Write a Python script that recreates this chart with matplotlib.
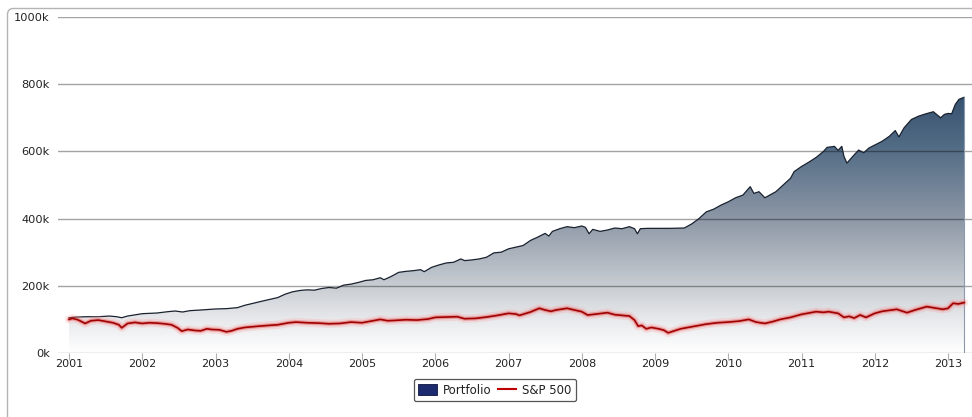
import numpy as np
import matplotlib
matplotlib.use("Agg")
import matplotlib.pyplot as plt
from matplotlib.patches import Patch, FancyBboxPatch, Polygon
from matplotlib.lines import Line2D
from matplotlib.colors import LinearSegmentedColormap
from matplotlib.transforms import IdentityTransform

# ---- data (values in thousands) ----
portfolio_t = [2001.00, 2001.10, 2001.25, 2001.40, 2001.55, 2001.65, 2001.72, 2001.80,
               2002.00, 2002.20, 2002.35, 2002.45, 2002.55, 2002.65, 2002.80, 2003.00,
               2003.15, 2003.30, 2003.40, 2003.55, 2003.65, 2003.75, 2003.85, 2003.95,
               2004.05, 2004.15, 2004.25, 2004.35, 2004.45, 2004.55, 2004.65, 2004.75,
               2004.85, 2004.95, 2005.05, 2005.15, 2005.25, 2005.30, 2005.40, 2005.50,
               2005.60, 2005.70, 2005.80, 2005.85, 2005.95, 2006.05, 2006.15, 2006.25,
               2006.35, 2006.40, 2006.50, 2006.60, 2006.70, 2006.80, 2006.90, 2007.00,
               2007.10, 2007.20, 2007.30, 2007.40, 2007.50, 2007.55, 2007.60, 2007.70,
               2007.80, 2007.90, 2008.00, 2008.05, 2008.10, 2008.15, 2008.25, 2008.35,
               2008.45, 2008.55, 2008.65, 2008.72, 2008.76, 2008.80, 2008.90, 2009.00,
               2009.20, 2009.40, 2009.50, 2009.60, 2009.70, 2009.80, 2009.90, 2010.00,
               2010.10, 2010.20, 2010.30, 2010.35, 2010.42, 2010.50, 2010.55, 2010.65,
               2010.75, 2010.85, 2010.90, 2011.00, 2011.10, 2011.20, 2011.30, 2011.35,
               2011.45, 2011.50, 2011.55, 2011.58, 2011.62, 2011.70, 2011.78, 2011.85,
               2011.92, 2012.00, 2012.10, 2012.20, 2012.28, 2012.33, 2012.40, 2012.50,
               2012.60, 2012.70, 2012.80, 2012.90, 2012.95, 2013.00, 2013.05, 2013.10,
               2013.15, 2013.22]
portfolio_v = [105, 107, 108, 108, 110, 108, 105, 110,
               117, 119, 123, 125, 122, 126, 128, 131,
               132, 135, 142, 150, 155, 160, 165, 175,
               182, 186, 188, 187, 192, 195, 193, 202,
               205, 210, 216, 218, 224, 218, 228, 240,
               243, 245, 248, 242, 255, 262, 268, 270,
               280, 275, 277, 280, 285, 298, 300, 310,
               315, 320, 335, 345, 356, 348, 362, 370,
               376, 373, 378, 374, 355, 368, 362, 366,
               372, 370, 376, 370, 355, 370, 371, 371,
               371, 372, 384, 400, 420, 428, 440, 450,
               462, 470, 495, 475, 480, 462, 468, 480,
               500, 520, 540, 555, 568, 582, 600, 612,
               615, 603, 615, 585, 565, 585, 604, 596,
               610, 619, 630, 645, 662, 643, 670, 695,
               705, 712, 718, 700, 710, 713, 712, 740,
               755, 761]

sp_t = [2001.00, 2001.05, 2001.12, 2001.22, 2001.30, 2001.40, 2001.50, 2001.60, 2001.68, 2001.72,
        2001.80, 2001.90, 2002.00, 2002.10, 2002.20, 2002.30, 2002.40, 2002.48, 2002.54, 2002.62,
        2002.72, 2002.80, 2002.88, 2002.95, 2003.05, 2003.15, 2003.22, 2003.30, 2003.40, 2003.50,
        2003.60, 2003.72, 2003.85, 2004.00, 2004.10, 2004.25, 2004.40, 2004.55, 2004.70, 2004.85,
        2005.00, 2005.10, 2005.25, 2005.35, 2005.45, 2005.60, 2005.75, 2005.90, 2006.00, 2006.15,
        2006.30, 2006.40, 2006.55, 2006.70, 2006.85, 2007.00, 2007.10, 2007.15, 2007.30, 2007.42,
        2007.50, 2007.58, 2007.65, 2007.80, 2007.88, 2008.00, 2008.08, 2008.20, 2008.35, 2008.45,
        2008.55, 2008.65, 2008.72, 2008.77, 2008.82, 2008.88, 2008.95, 2009.05, 2009.12, 2009.18,
        2009.25, 2009.35, 2009.45, 2009.55, 2009.70, 2009.85, 2010.00, 2010.15, 2010.28, 2010.38,
        2010.50, 2010.60, 2010.71, 2010.85, 2011.00, 2011.10, 2011.20, 2011.30, 2011.37, 2011.50,
        2011.58, 2011.65, 2011.72, 2011.80, 2011.88, 2012.00, 2012.10, 2012.20, 2012.30, 2012.44,
        2012.55, 2012.71, 2012.82, 2012.93, 2013.00, 2013.07, 2013.14, 2013.22]
sp_v = [100, 103, 99, 88, 96, 98, 94, 90, 84, 75,
        88, 91, 88, 90, 89, 87, 84, 75, 65, 70,
        67, 66, 72, 70, 69, 63, 66, 72, 76, 78,
        80, 82, 84, 90, 92, 90, 89, 87, 88, 92,
        90, 94, 100, 96, 97, 99, 98, 101, 106, 107,
        108, 102, 103, 107, 112, 118, 116, 112, 122, 133,
        128, 124, 128, 133, 129, 123, 113, 116, 120, 114,
        112, 110, 98, 80, 82, 72, 76, 72, 68, 60,
        65, 72, 76, 80, 86, 90, 92, 95, 100, 92,
        88, 93, 100, 106, 115, 119, 123, 121, 123, 118,
        106, 109, 104, 113, 106, 118, 124, 127, 130, 120,
        128, 138, 134, 130, 133, 148, 146, 150]

year_ticks = list(range(2001, 2014))
year_labels = [str(y) for y in year_ticks]
value_ticks = [0, 200, 400, 600, 800, 1000]
value_labels = [f"{v}k" for v in value_ticks]
series_names = ["Portfolio", "S&P 500"]

# ---- figure ----
W, H = 972, 417
fig = plt.figure(figsize=(W / 100, H / 100), dpi=100)
fig.patch.set_facecolor("white")

frame = FancyBboxPatch((7.5, -20), 1000, H - 8 + 20 - 0.5,
                       boxstyle="round,pad=0,rounding_size=6",
                       transform=IdentityTransform(), facecolor="white",
                       edgecolor="#b4b4b4", linewidth=1.0, zorder=0)
fig.add_artist(frame)

ax_l, ax_r, ax_t, ax_b = 58, 972, 17, 353
ax = fig.add_axes([ax_l / W, (H - ax_b) / H, (ax_r - ax_l) / W, (ax_b - ax_t) / H])
ax.set_facecolor("none")

x0 = 2001 - (69 - ax_l) / 73.25
x1 = 2001 + (ax_r - 69) / 73.25
ax.set_xlim(x0, x1)
ax.set_ylim(0, 1000)

for s in ax.spines.values():
    s.set_visible(False)

ax.set_yticks(value_ticks)
ax.set_yticklabels(value_labels)
ax.set_xticks(year_ticks)
ax.set_xticklabels(year_labels)
ax.tick_params(axis="y", length=0, pad=6, labelsize=8.2, labelcolor="#222222")
ax.tick_params(axis="x", length=5, width=0.8, color="#b0b0b0", direction="out",
               pad=-1, labelsize=8, labelcolor="#222222")

# portfolio gradient area
pt = np.array(portfolio_t)
pv = np.array(portfolio_v)
cmap = LinearSegmentedColormap.from_list(
    "pf", [(0.0, "#ffffff"), (0.13, "#e8e9ec"), (0.26, "#c8cdd2"),
           (0.53, "#8c96a5"), (0.79, "#556e87"), (1.0, "#375270")])
grad = np.linspace(0, 1, 256).reshape(-1, 1)
img = ax.imshow(grad, cmap=cmap, origin="lower", aspect="auto",
                extent=[pt[0], pt[-1], 0, pv.max()], zorder=1, interpolation="bilinear")
verts = np.vstack([[pt[0], 0], np.column_stack([pt, pv]), [pt[-1], 0]])
poly = Polygon(verts, closed=True, facecolor="none", edgecolor="none",
               transform=ax.transData)
ax.add_patch(poly)
img.set_clip_path(poly)

# gridlines drawn over the area (semi-transparent)
for v in value_ticks[1:]:
    ax.axhline(v, color="#000000", alpha=0.36, linewidth=1.0, zorder=2)
ax.axhline(0, color="#b0b0b0", linewidth=1.0, zorder=2)

ax.plot(pt, pv, color="#1a2230", linewidth=0.9, zorder=3)
ax.plot([pt[-1], pt[-1]], [0, pv[-1]], color="#8a9aac", linewidth=0.8, zorder=3)

# S&P line with glow
st = np.array(sp_t)
sv = np.array(sp_v)
ax.plot(st, sv, color="#ff9090", linewidth=6, alpha=0.22, zorder=4,
        solid_capstyle="round")
ax.plot(st, sv, color="#e03030", linewidth=3, alpha=0.35, zorder=4,
        solid_capstyle="round")
ax.plot(st, sv, color="#a00000", linewidth=1.2, zorder=5)

# legend
handles = [Patch(facecolor="#1c2a6e", edgecolor="#0c1440", linewidth=0.6),
           Line2D([0], [0], color="#c00000", linewidth=1.5)]
leg = fig.legend(handles, series_names, loc="center",
                 bbox_to_anchor=(495 / W, (H - 390) / H), ncol=2,
                 fontsize=8.5, frameon=True, fancybox=True, handlelength=1.6,
                 handleheight=1.0, handletextpad=0.5, columnspacing=0.5,
                 borderpad=0.4, labelcolor="#222222")
leg.get_frame().set_edgecolor("#555555")
leg.get_frame().set_linewidth(0.9)
leg.get_frame().set_facecolor("white")
leg.get_frame().set_alpha(1.0)

fig.savefig("out.png", dpi=100, facecolor="white")
